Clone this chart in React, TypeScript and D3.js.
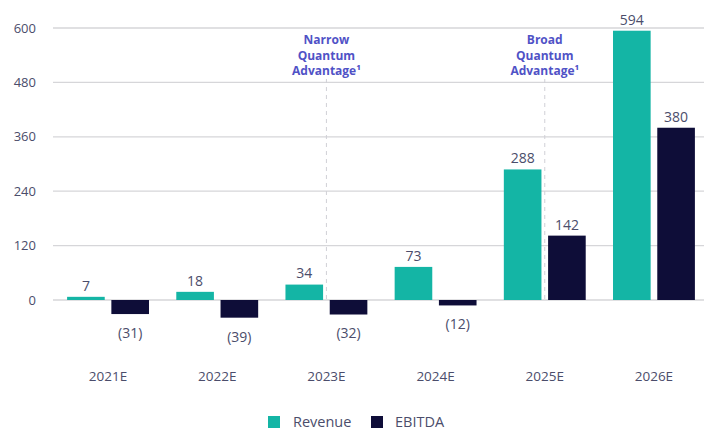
import React from "react";
import * as d3 from "d3";

const years = ["2021E", "2022E", "2023E", "2024E", "2025E", "2026E"];
const revenue = [7, 18, 34, 73, 288, 594];
const ebitda = [-31, -39, -32, -12, 142, 380];
const yTicks = [0, 120, 240, 360, 480, 600];
const seriesNames = ["Revenue", "EBITDA"];
const seriesColors = ["#14b5a5", "#0e0d38"];
const milestones = [
  { year: "2023E", lines: ["Narrow", "Quantum", "Advantage¹"] },
  { year: "2025E", lines: ["Broad", "Quantum", "Advantage¹"] },
];

const W = 704;
const H = 434;
const textColor = "#4b4d6b";
const font = "'Open Sans', sans-serif";

const fmt = (v: number) => (v < 0 ? `(${Math.abs(v)})` : `${v}`);

export default function App() {
  const x = d3
    .scaleBand<string>()
    .domain(years)
    .range([54, 708])
    .paddingInner(0.25)
    .paddingOuter(0.12);
  const xs = d3
    .scaleBand<string>()
    .domain(seriesNames)
    .range([0, x.bandwidth()])
    .paddingInner(0.15);
  const y = d3.scaleLinear().domain([0, 600]).range([300, 28]);

  const rows = years.map((yr, i) => ({ yr, vals: [revenue[i], ebitda[i]] }));

  return (
    <svg
      width={W}
      height={H}
      style={{ position: "absolute", left: 0, top: 0, background: "#fff" }}
      fontFamily={font}
    >
      {/* grid + y labels */}
      {yTicks.map((t) => (
        <g key={t}>
          <line x1={53} x2={704} y1={y(t)} y2={y(t)} stroke="#d6d6d9" strokeWidth={1.3} />
          <text x={36} y={y(t)} dy="0.35em" textAnchor="end" fontSize={13} fill={textColor}>
            {t}
          </text>
        </g>
      ))}

      {/* milestone annotations */}
      {milestones.map((m) => {
        const cx = (x(m.year) ?? 0) + x.bandwidth() / 2;
        return (
          <g key={m.year}>
            <line
              x1={cx}
              x2={cx}
              y1={79}
              y2={300}
              stroke="#d0d0d6"
              strokeWidth={1}
              strokeDasharray="4,4"
            />
            {m.lines.map((l, j) => (
              <text
                key={j}
                x={cx}
                y={40 + j * 15.5}
                dy="0.35em"
                textAnchor="middle"
                fontSize={12}
                fontWeight={700}
                fill="#5052c6"
              >
                {l}
              </text>
            ))}
          </g>
        );
      })}

      {/* bars */}
      {rows.map((r) => (
        <g key={r.yr} transform={`translate(${x(r.yr)},0)`}>
          {r.vals.map((v, j) => {
            const bx = xs(seriesNames[j]) ?? 0;
            const top = y(Math.max(0, v));
            const h = Math.abs(y(v) - y(0));
            const cx = bx + xs.bandwidth() / 2;
            return (
              <g key={j}>
                <rect x={bx} y={top} width={xs.bandwidth()} height={h} fill={seriesColors[j]} />
                <text
                  x={cx}
                  y={v >= 0 ? y(v) - 11 : y(v) + 19}
                  dy="0.35em"
                  textAnchor="middle"
                  fontSize={14}
                  fill={textColor}
                >
                  {fmt(v)}
                </text>
              </g>
            );
          })}
          <text
            x={x.bandwidth() / 2}
            y={376}
            dy="0.35em"
            textAnchor="middle"
            fontSize={13.5}
            fill={textColor}
          >
            {r.yr}
          </text>
        </g>
      ))}

      {/* legend */}
      <g>
        <rect x={268} y={416} width={12} height={12} fill={seriesColors[0]} />
        <text x={293} y={422} dy="0.35em" fontSize={14.5} fill={textColor}>
          {seriesNames[0]}
        </text>
        <rect x={371} y={416} width={12} height={12} fill={seriesColors[1]} />
        <text x={395} y={422} dy="0.35em" fontSize={14.5} fill={textColor}>
          {seriesNames[1]}
        </text>
      </g>
    </svg>
  );
}
